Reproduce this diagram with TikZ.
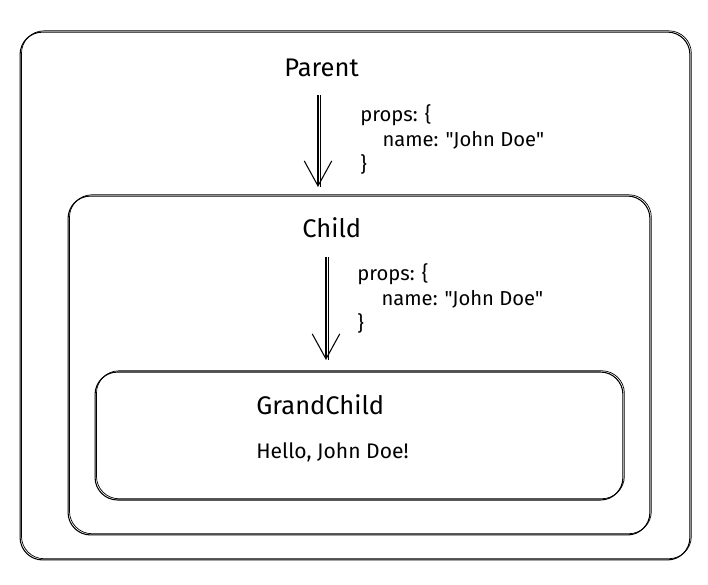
\documentclass[tikz,border=0pt]{standalone}
\usepackage{fontspec}
\setmainfont{Fira Sans}[Ligatures=TeXOff]
\usetikzlibrary{arrows.meta,positioning}

\begin{document}
\begin{tikzpicture}[
	x=0.02cm, y=-0.02cm,
	box/.style={% Boxes drawn with a double stroke
		rectangle,
		draw,
		line width=0.6pt,
		rounded corners=4.5mm,
		preaction={draw, line width=0.4pt, transform canvas={shift={(0.8pt,0.7pt)}}},
	},
	title/.style={
		anchor=west,
		font=\fontsize{14.5}{17}\selectfont,
		inner sep=0pt,
	},
	props/.style={
		anchor=north west,
		align=left,
		font=\fontsize{11.5}{14.2}\selectfont,
		inner sep=0pt,
	},
	ArrowP/.style={% Open arrows
		-{Straight Barb[length=5mm, width=5.5mm, line width=0.6pt]},
		line width=0.6pt,
		preaction={draw, line width=0.4pt, -, transform canvas={xshift=1.2pt}},
	},
]

\useasboundingbox (0,0) rectangle (708,585);

\node[box, minimum width=13.4cm, minimum height=10.56cm] (parent) at (355,296) {};
\node[box, minimum width=11.64cm, minimum height=6.78cm] (child) at (359,365.5) {};
\node[box, minimum width=10.56cm, minimum height=2.56cm] (grandchild) at (359,436) {};

\node[title] (parentlbl) at (284,68) {Parent};
\node[title] (childlbl) at (302,228) {Child};
\node[title] (grandlbl) at (256,405) {GrandChild};
\node[title, font=\fontsize{12}{14}\selectfont] (hello) at (256,452) {Hello, John Doe!};

\node[props] (props1) at (360,104) {props: \{\\\hspace*{1.1em}name: "John Doe"\\\}};
\node[props] (props2) at (357,263) {props: \{\\\hspace*{1.2em}name: "John Doe"\\\}};

\coordinate (a1s) at (318,95);
\coordinate (a1e) at (318,187);
\coordinate (a2s) at (326,257);
\coordinate (a2e) at (326,360);

\draw[ArrowP] (a1s) -- (a1e);
\draw[ArrowP] (a2s) -- (a2e);

\end{tikzpicture}
\end{document}
